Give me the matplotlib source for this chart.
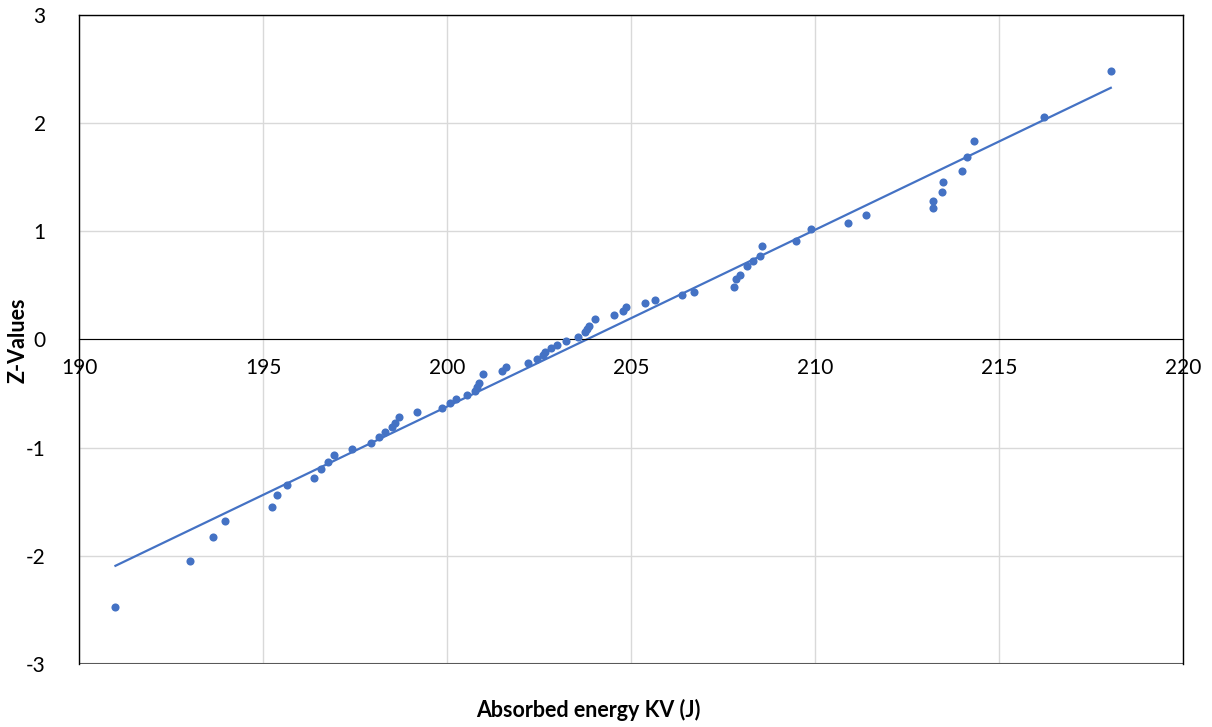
import numpy as np
import matplotlib.pyplot as plt

# Datos (energia absorbida vs valor Z)
energia = [190.99, 193.02, 193.64, 193.96, 195.25, 195.37, 195.64, 196.39, 196.57, 196.76,
           196.93, 197.42, 197.93, 198.15, 198.32, 198.51, 198.59, 198.70, 199.19, 199.86,
           200.09, 200.25, 200.54, 200.76, 200.82, 200.88, 200.97, 201.49, 201.60, 202.20,
           202.44, 202.62, 202.66, 202.84, 203.00, 203.23, 203.55, 203.75, 203.81, 203.87,
           204.01, 204.53, 204.77, 204.87, 205.38, 205.66, 206.39, 206.72, 207.80, 207.86,
           207.96, 208.16, 208.33, 208.52, 208.57, 209.48, 209.89, 210.91, 211.38, 213.21,
           213.22, 213.45, 213.48, 214.00, 214.13, 214.32, 216.22, 218.04]
z_valores = [-2.47, -2.046, -1.83, -1.676, -1.55, -1.44, -1.35, -1.278, -1.20, -1.136,
             -1.07, -1.01, -0.954, -0.90, -0.852, -0.806, -0.769, -0.713, -0.67, -0.63,
             -0.583, -0.546, -0.513, -0.472, -0.435, -0.398, -0.321, -0.29, -0.254, -0.213,
             -0.182, -0.145, -0.115, -0.083, -0.053, -0.016, 0.024, 0.065, 0.095, 0.126,
             0.191, 0.228, 0.265, 0.296, 0.333, 0.367, 0.407, 0.441, 0.484, 0.556,
             0.598, 0.681, 0.722, 0.768, 0.864, 0.913, 1.021, 1.08, 1.148, 1.213,
             1.28, 1.361, 1.454, 1.561, 1.685, 1.836, 2.061, 2.484]

x_ticks = [190, 195, 200, 205, 210, 215, 220]
y_ticks = [-3, -2, -1, 0, 1, 2, 3]

azul = "#4472C4"
plt.rcParams['font.family'] = ['Lato', 'DejaVu Sans']
plt.rcParams['axes.unicode_minus'] = False

fig = plt.figure(figsize=(12.12, 7.27), dpi=100)
ax = fig.add_axes([0.0652, 0.0867, 0.9108, 0.8927])

ax.scatter(energia, z_valores, s=34, color=azul, zorder=3, linewidths=0)

# Linea de tendencia lineal
m, b = np.polyfit(energia, z_valores, 1)
xs = np.array([min(energia), max(energia)])
ax.plot(xs, m * xs + b, color=azul, linewidth=1.6, zorder=2)

ax.set_xlim(190, 220)
ax.set_ylim(-3, 3)
ax.set_xticks(x_ticks)
ax.set_yticks(y_ticks)
ax.grid(True, color="#d9d9d9", linewidth=1)
ax.set_axisbelow(True)

# Eje x cruzando en cero, como en Excel
ax.spines['bottom'].set_position(('data', 0))
ax.spines['bottom'].set_color('black')
ax.axhline(-3, color='#595959', linewidth=1.5, zorder=1)
for lado in ['left', 'top', 'right']:
    ax.spines[lado].set_color('black')
    ax.spines[lado].set_linewidth(1)
ax.tick_params(axis='both', length=0, labelsize=15)
ax.tick_params(axis='x', pad=13)
ax.tick_params(axis='y', pad=24)

fig.text(0.485, 0.023, "Absorbed energy KV (J)", ha='center', va='center',
         fontsize=15.5, fontweight='bold')
fig.text(0.015, 0.532, "Z-Values", ha='center', va='center', rotation=90,
         fontsize=15.5, fontweight='bold')

fig.savefig("out.png", dpi=100)
